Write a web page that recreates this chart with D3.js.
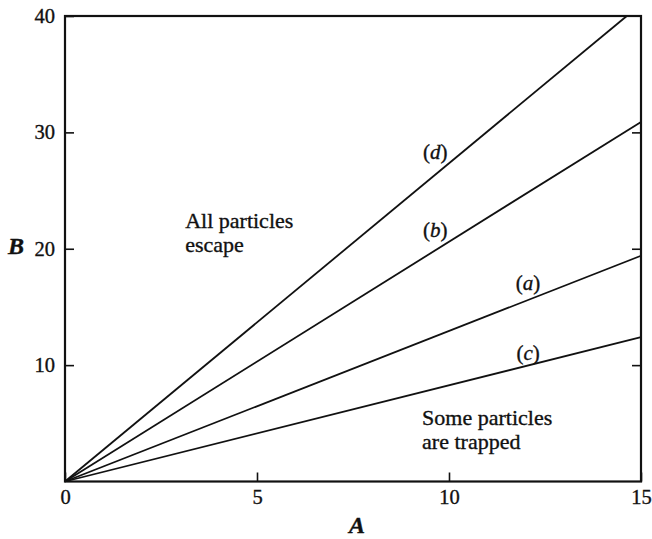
<!DOCTYPE html>
<html>
<head>
<meta charset="utf-8">
<script src="https://cdn.jsdelivr.net/npm/d3@7/dist/d3.min.js"></script>
<style>
  html, body { margin: 0; padding: 0; background: #fff; }
  svg { display: block; }
  text { font-family: "Liberation Serif", "DejaVu Serif", serif; fill: #111; stroke: #111; stroke-width: 0.35px; }
</style>
</head>
<body>
<svg id="chart" width="652" height="539"></svg>
<script>
// Boundary curves B(A) separating trapped and escaping particles
const curveNames = ["(a)", "(b)", "(c)", "(d)"];
const curveA = [[0, 0], [15, 19.4]];
const curveB = [[0, 0], [15, 30.9]];
const curveC = [[0, 0], [15, 12.4]];
const curveD = [[0, 0], [14.63, 40]];

// Where each curve label sits, in data units (A, B)
const labelAt = [[12.06, 16.9], [9.64, 21.4], [12.06, 10.9], [9.64, 28.1]];

const xTicks = [0, 5, 10, 15];
const yTicks = [10, 20, 30, 40];

const regionText = [
  { lines: ["All particles", "escape"], at: [3.13, 21.8] },
  { lines: ["Some particles", "are trapped"], at: [9.3, 4.85] }
];

const svg = d3.select("#chart");
const plot = { left: 65, right: 641, top: 16, bottom: 481.5 };

const x = d3.scaleLinear().domain([0, 15]).range([plot.left, plot.right]);
const y = d3.scaleLinear().domain([0, 40]).range([plot.bottom, plot.top]);

// Inward ticks on bottom, left and right
const tickLen = 9;
svg.append("g")
  .attr("transform", `translate(0,${plot.bottom})`)
  .call(d3.axisBottom(x).tickValues(xTicks).tickSizeInner(-tickLen).tickSizeOuter(0).tickPadding(8).tickFormat(d3.format("d")))
  .call(g => g.select(".domain").remove())
  .call(g => g.selectAll("line").attr("stroke", "#111").attr("stroke-width", 1.6))
  .call(g => g.selectAll("text").attr("font-size", 20.5).attr("fill", "#111"));

svg.append("g")
  .attr("transform", `translate(${plot.left},0)`)
  .call(d3.axisLeft(y).tickValues(yTicks).tickSizeInner(-tickLen).tickSizeOuter(0).tickPadding(10).tickFormat(d3.format("d")))
  .call(g => g.select(".domain").remove())
  .call(g => g.selectAll("line").attr("stroke", "#111").attr("stroke-width", 1.6))
  .call(g => g.selectAll("text").attr("font-size", 20.5).attr("fill", "#111"));

svg.append("g")
  .attr("transform", `translate(${plot.right},0)`)
  .call(d3.axisRight(y).tickValues(yTicks.filter(v => v < 40)).tickSizeInner(-tickLen).tickSizeOuter(0).tickFormat(""))
  .call(g => g.select(".domain").remove())
  .call(g => g.selectAll("line").attr("stroke", "#111").attr("stroke-width", 1.6));

// Curves
const line = d3.line().x(d => x(d[0])).y(d => y(d[1]));
const curves = [curveA, curveB, curveC, curveD];
svg.append("g")
  .selectAll("path")
  .data(curves)
  .join("path")
  .attr("d", line)
  .attr("fill", "none")
  .attr("stroke", "#111")
  .attr("stroke-width", 1.8);

// Curve labels with italic letters
const lab = svg.append("g").selectAll("text")
  .data(curveNames)
  .join("text")
  .attr("x", (d, i) => x(labelAt[i][0]))
  .attr("y", (d, i) => y(labelAt[i][1]))
  .attr("text-anchor", "middle")
  .attr("dominant-baseline", "middle")
  .attr("font-size", 21);
lab.append("tspan").text("(");
lab.append("tspan").attr("font-style", "italic").text(d => d.slice(1, -1));
lab.append("tspan").text(")");

// Region annotations
regionText.forEach(r => {
  const t = svg.append("text")
    .attr("x", x(r.at[0]))
    .attr("y", y(r.at[1]))
    .attr("font-size", 22);
  r.lines.forEach((s, i) => {
    t.append("tspan").attr("x", x(r.at[0])).attr("dy", i === 0 ? 0 : 24).text(s);
  });
});

// Frame
svg.append("rect")
  .attr("x", plot.left).attr("y", plot.top)
  .attr("width", plot.right - plot.left).attr("height", plot.bottom - plot.top)
  .attr("fill", "none").attr("stroke", "#111").attr("stroke-width", 2.2);

// Axis titles
svg.append("text")
  .attr("x", 357).attr("y", 533)
  .attr("text-anchor", "middle")
  .attr("font-size", 24).attr("font-weight", "bold").attr("font-style", "italic")
  .text("A");
svg.append("text")
  .attr("x", 16).attr("y", y(20))
  .attr("text-anchor", "middle").attr("dominant-baseline", "middle")
  .attr("font-size", 24).attr("font-weight", "bold").attr("font-style", "italic")
  .text("B");
</script>
</body>
</html>
